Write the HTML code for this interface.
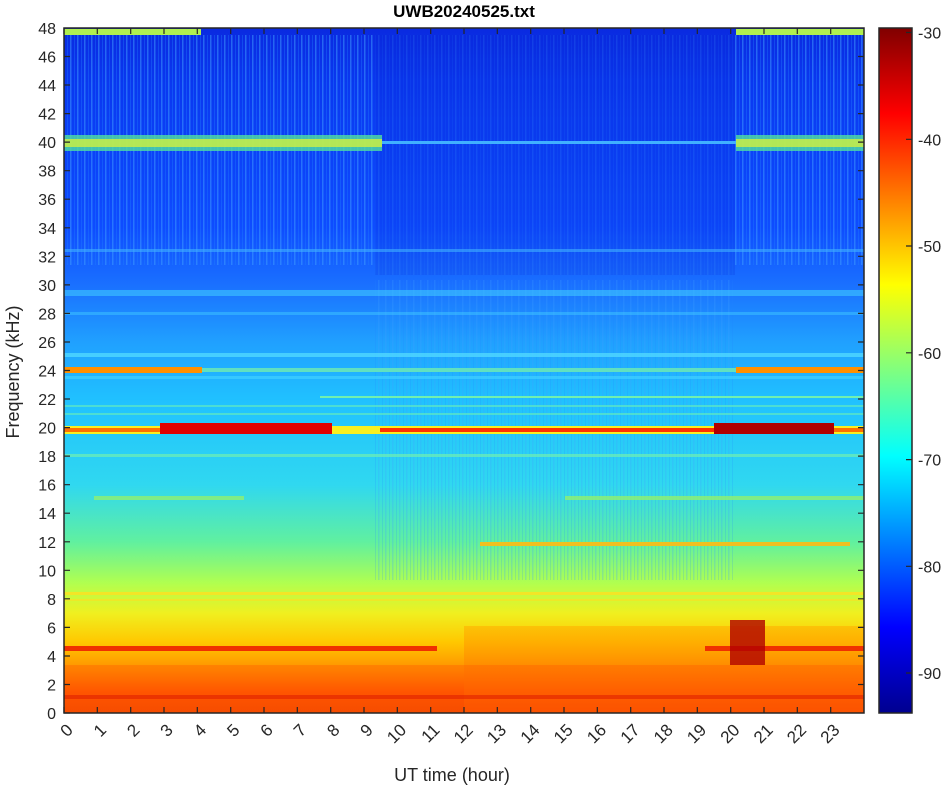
<!DOCTYPE html>
<html><head><meta charset="utf-8"><style>
body{margin:0;background:#fff;}
svg{display:block;font-family:"Liberation Sans",sans-serif;}
</style></head><body>
<svg width="948" height="786" viewBox="0 0 948 786">
<defs>
<linearGradient id="bg" x1="0" y1="0" x2="0" y2="1">
<stop offset="0" stop-color="#0a2ae0"/>
<stop offset="0.083" stop-color="#0a38f0"/>
<stop offset="0.29" stop-color="#0e4cff"/>
<stop offset="0.375" stop-color="#1a70ff"/>
<stop offset="0.458" stop-color="#20a0ff"/>
<stop offset="0.54" stop-color="#20c0ff"/>
<stop offset="0.667" stop-color="#30d8f0"/>
<stop offset="0.75" stop-color="#60f0a0"/>
<stop offset="0.81" stop-color="#b0ff50"/>
<stop offset="0.854" stop-color="#f0f020"/>
<stop offset="0.896" stop-color="#ffc800"/>
<stop offset="0.9375" stop-color="#ff9000"/>
<stop offset="0.969" stop-color="#ff5000"/>
<stop offset="1" stop-color="#f04000"/>
</linearGradient>
<linearGradient id="jet" x1="0" y1="1" x2="0" y2="0">
<stop offset="0" stop-color="#00008f"/>
<stop offset="0.125" stop-color="#0000ff"/>
<stop offset="0.375" stop-color="#00ffff"/>
<stop offset="0.625" stop-color="#ffff00"/>
<stop offset="0.875" stop-color="#ff0000"/>
<stop offset="1" stop-color="#800000"/>
</linearGradient>
<linearGradient id="low" x1="0" y1="0" x2="0" y2="1">
<stop offset="0" stop-color="#ffb000"/>
<stop offset="1" stop-color="#ff5000"/>
</linearGradient>
<pattern id="str" width="7" height="10" patternUnits="userSpaceOnUse">
<rect x="0" y="0" width="1.5" height="10" fill="#40a0ff" opacity="0.5"/>
<rect x="4" y="0" width="1" height="10" fill="#2080ff" opacity="0.35"/>
</pattern>
</defs>

<rect x="64" y="28" width="800" height="685" fill="url(#bg)"/>
<rect x="375" y="35" width="360" height="240" fill="#0828d0" opacity="0.18"/>
<rect x="64" y="35" width="310" height="230" fill="url(#str)"/>
<rect x="735" y="35" width="129" height="230" fill="url(#str)"/>
<rect x="375" y="35" width="360" height="240" fill="url(#str)" opacity="0.35"/>
<rect x="375" y="280" width="360" height="300" fill="url(#str)" opacity="0.5"/>
<rect x="64" y="29" width="137" height="6" fill="#b0f050"/>
<rect x="736" y="29" width="128" height="6" fill="#b0f050"/>
<rect x="64" y="135" width="318" height="16" fill="#50e0a0" opacity="0.8"/>
<rect x="64" y="139" width="318" height="8" fill="#d0f040" opacity="0.8"/>
<rect x="736" y="135" width="128" height="16" fill="#50e0a0" opacity="0.8"/>
<rect x="736" y="139" width="128" height="8" fill="#d0f040" opacity="0.8"/>
<rect x="382" y="141" width="354" height="3" fill="#40b0ff"/>
<rect x="64" y="249" width="800" height="3" fill="#40b0ff" opacity="0.6"/>
<rect x="64" y="290" width="800" height="6" fill="#40c8ff" opacity="0.6"/>
<rect x="64" y="312" width="800" height="3" fill="#40c8ff" opacity="0.5"/>
<rect x="64" y="353" width="800" height="4" fill="#50d8ff" opacity="0.8"/>
<rect x="64" y="367" width="138" height="6" fill="#ff9000"/>
<rect x="736" y="367" width="128" height="6" fill="#ff9000"/>
<rect x="202" y="368" width="534" height="4" fill="#60e0c0"/>
<rect x="64" y="376" width="800" height="3" fill="#40d0ff" opacity="0.7"/>
<rect x="320" y="396" width="544" height="2" fill="#70f0b0"/>
<rect x="64" y="405" width="800" height="2" fill="#60e8c0" opacity="0.7"/>
<rect x="64" y="413" width="800" height="2" fill="#60e8c0" opacity="0.7"/>
<rect x="64" y="426" width="800" height="8" fill="#f8f020"/>
<rect x="380" y="428" width="340" height="4" fill="#ff3000"/>
<rect x="160" y="423" width="172" height="11" fill="#e00000"/>
<rect x="714" y="423" width="120" height="11" fill="#b00000"/>
<rect x="64" y="428" width="96" height="4" fill="#ff7000"/>
<rect x="834" y="428" width="30" height="4" fill="#ff7000"/>
<rect x="64" y="454" width="800" height="3" fill="#70f0b0" opacity="0.7"/>
<rect x="94" y="496" width="150" height="4" fill="#90f070" opacity="0.8"/>
<rect x="565" y="496" width="299" height="4" fill="#90f070" opacity="0.8"/>
<rect x="480" y="542" width="370" height="4" fill="#f0c020"/>
<rect x="64" y="592" width="800" height="3" fill="#ffe020" opacity="0.8"/>
<rect x="64" y="599" width="800" height="2" fill="#ffe020" opacity="0.6"/>
<rect x="464" y="626" width="400" height="87" fill="url(#low)" opacity="0.6"/>
<rect x="64" y="665" width="800" height="48" fill="#ff6000" opacity="0.4"/>
<rect x="64" y="695" width="800" height="4" fill="#e02000" opacity="0.6"/>
<rect x="64" y="646" width="373" height="5" fill="#f03000"/>
<rect x="705" y="646" width="159" height="5" fill="#f03000"/>
<rect x="730" y="620" width="35" height="45" fill="#b00000" opacity="0.8"/>

<rect x="64" y="28" width="800" height="685" fill="none" stroke="#262626" stroke-width="1.5"/>
<g stroke="#262626" stroke-width="1.2">
<path d="M64 713v-6M97.3 713v-6M130.7 713v-6M164 713v-6M197.3 713v-6M230.7 713v-6M264 713v-6M297.3 713v-6M330.7 713v-6M364 713v-6M397.3 713v-6M430.7 713v-6M464 713v-6M497.3 713v-6M530.7 713v-6M564 713v-6M597.3 713v-6M630.7 713v-6M664 713v-6M697.3 713v-6M730.7 713v-6M764 713v-6M797.3 713v-6M830.7 713v-6"/>
<path d="M64 28v6M97.3 28v6M130.7 28v6M164 28v6M197.3 28v6M230.7 28v6M264 28v6M297.3 28v6M330.7 28v6M364 28v6M397.3 28v6M430.7 28v6M464 28v6M497.3 28v6M530.7 28v6M564 28v6M597.3 28v6M630.7 28v6M664 28v6M697.3 28v6M730.7 28v6M764 28v6M797.3 28v6M830.7 28v6"/>
</g>
<g font-size="16" fill="#262626" text-anchor="end">
<text x="56" y="719">0</text><text x="56" y="690.5">2</text><text x="56" y="662">4</text><text x="56" y="633.4">6</text><text x="56" y="604.8">8</text><text x="56" y="576.3">10</text><text x="56" y="547.8">12</text><text x="56" y="519.2">14</text><text x="56" y="490.7">16</text><text x="56" y="462.1">18</text><text x="56" y="433.6">20</text><text x="56" y="405">22</text><text x="56" y="376.5">24</text><text x="56" y="348">26</text><text x="56" y="319.4">28</text><text x="56" y="290.9">30</text><text x="56" y="262.3">32</text><text x="56" y="233.8">34</text><text x="56" y="205.2">36</text><text x="56" y="176.7">38</text><text x="56" y="148.1">40</text><text x="56" y="119.6">42</text><text x="56" y="91">44</text><text x="56" y="62.5">46</text><text x="56" y="34">48</text>
</g>
<g stroke="#262626" stroke-width="1.2">
<path d="M64 713h6M64 684.5h6M64 656h6M64 627.4h6M64 598.8h6M64 570.3h6M64 541.8h6M64 513.2h6M64 484.7h6M64 456.1h6M64 427.6h6M64 399h6M64 370.5h6M64 342h6M64 313.4h6M64 284.9h6M64 256.3h6M64 227.8h6M64 199.2h6M64 170.7h6M64 142.1h6M64 113.6h6M64 85h6M64 56.5h6"/>
<path d="M864 684.5h-6M864 656h-6M864 627.4h-6M864 598.8h-6M864 570.3h-6M864 541.8h-6M864 513.2h-6M864 484.7h-6M864 456.1h-6M864 427.6h-6M864 399h-6M864 370.5h-6M864 342h-6M864 313.4h-6M864 284.9h-6M864 256.3h-6M864 227.8h-6M864 199.2h-6M864 170.7h-6M864 142.1h-6M864 113.6h-6M864 85h-6M864 56.5h-6"/>
</g>
<g font-size="17" fill="#262626" text-anchor="end">
<text transform="translate(74,731) rotate(-45)">0</text>
<text transform="translate(107.3,731) rotate(-45)">1</text>
<text transform="translate(140.7,731) rotate(-45)">2</text>
<text transform="translate(174,731) rotate(-45)">3</text>
<text transform="translate(207.3,731) rotate(-45)">4</text>
<text transform="translate(240.7,731) rotate(-45)">5</text>
<text transform="translate(274,731) rotate(-45)">6</text>
<text transform="translate(307.3,731) rotate(-45)">7</text>
<text transform="translate(340.7,731) rotate(-45)">8</text>
<text transform="translate(374,731) rotate(-45)">9</text>
<text transform="translate(407.3,731) rotate(-45)">10</text>
<text transform="translate(440.7,731) rotate(-45)">11</text>
<text transform="translate(474,731) rotate(-45)">12</text>
<text transform="translate(507.3,731) rotate(-45)">13</text>
<text transform="translate(540.7,731) rotate(-45)">14</text>
<text transform="translate(574,731) rotate(-45)">15</text>
<text transform="translate(607.3,731) rotate(-45)">16</text>
<text transform="translate(640.7,731) rotate(-45)">17</text>
<text transform="translate(674,731) rotate(-45)">18</text>
<text transform="translate(707.3,731) rotate(-45)">19</text>
<text transform="translate(740.7,731) rotate(-45)">20</text>
<text transform="translate(774,731) rotate(-45)">21</text>
<text transform="translate(807.3,731) rotate(-45)">22</text>
<text transform="translate(840.7,731) rotate(-45)">23</text>
</g>
<text x="452" y="781" font-size="18" fill="#262626" text-anchor="middle">UT time (hour)</text>
<text transform="translate(19,372) rotate(-90)" font-size="18" fill="#262626" text-anchor="middle">Frequency (kHz)</text>
<text x="464" y="17" font-size="17" font-weight="bold" fill="#000" text-anchor="middle">UWB20240525.txt</text>

<rect x="879" y="28" width="33" height="685" fill="url(#jet)" stroke="#262626" stroke-width="1.5"/>
<g stroke="#262626" stroke-width="1.2">
<path d="M912 32.5h-6M912 139.3h-6M912 246h-6M912 352.8h-6M912 459.6h-6M912 566.3h-6M912 673h-6"/>
</g>
<g font-size="16" fill="#262626">
<text x="918" y="38.5">-30</text><text x="918" y="145.3">-40</text><text x="918" y="252">-50</text><text x="918" y="358.8">-60</text><text x="918" y="465.6">-70</text><text x="918" y="572.3">-80</text><text x="918" y="679">-90</text>
</g>
</svg>
</body></html>
